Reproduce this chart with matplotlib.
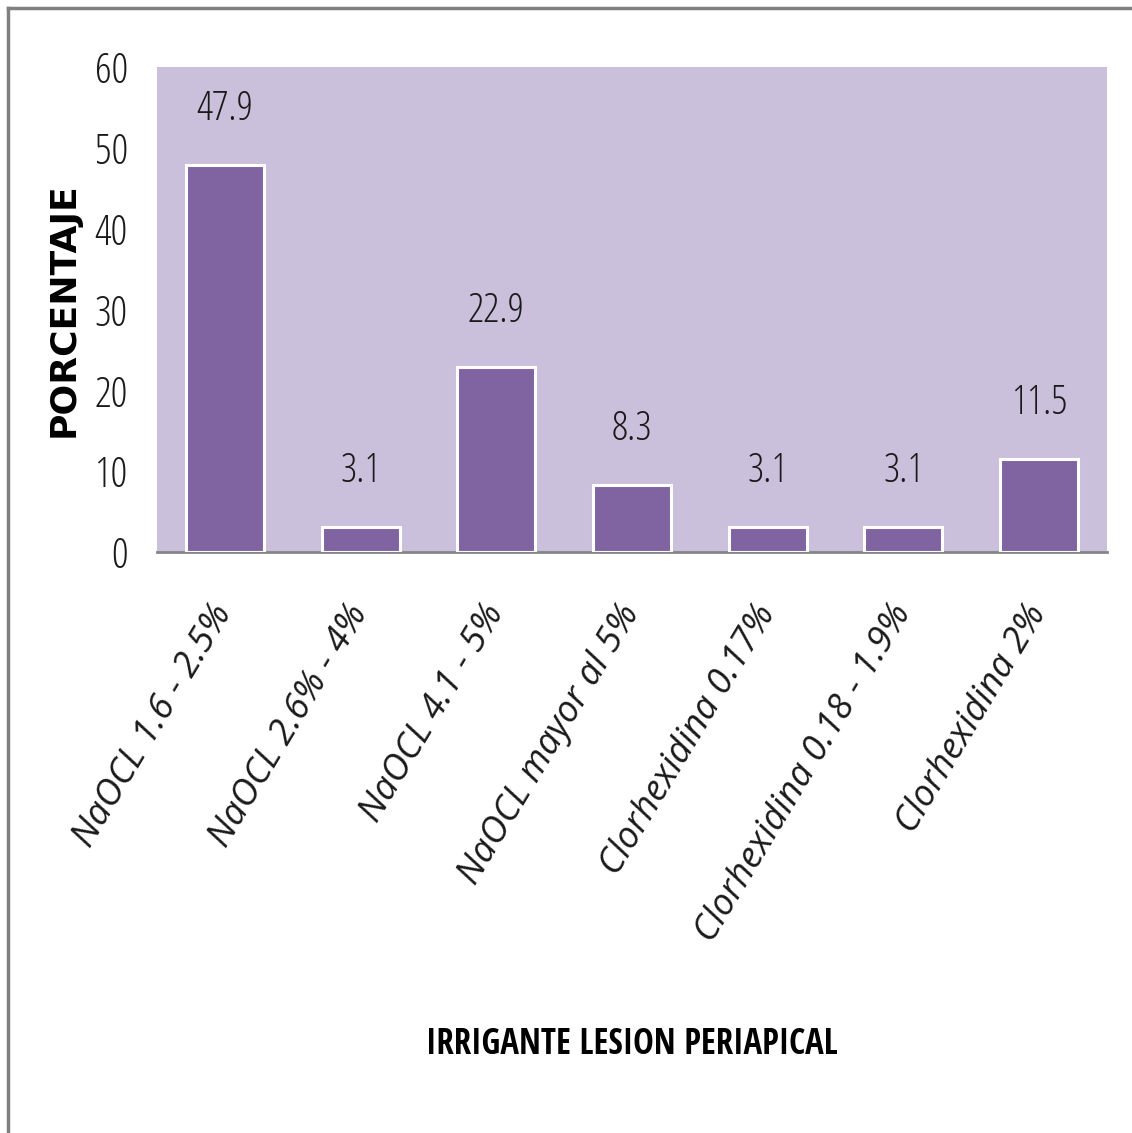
import matplotlib
matplotlib.use('Agg')
from matplotlib import pyplot as plt
from matplotlib.lines import Line2D

# porcentaje de uso de cada irrigante en lesion periapical
irrigantes = ['NaOCL 1.6 - 2.5%', 'NaOCL 2.6% - 4%', 'NaOCL 4.1 - 5%',
              'NaOCL mayor al 5%', 'Clorhexidina 0.17%',
              'Clorhexidina 0.18 - 1.9%', 'Clorhexidina 2%']
porcentajes = [47.9, 3.1, 22.9, 8.3, 3.1, 3.1, 11.5]
yticks = [0, 10, 20, 30, 40, 50, 60]

COND = dict(family=['Open Sans', 'DejaVu Sans'], stretch='condensed')

fig = plt.figure(figsize=(11.32, 11.33), dpi=100)
ax = fig.add_axes([157 / 1132, 1 - 552 / 1133, 950 / 1132, 485 / 1133])
ax.set_facecolor('#CBC0DB')

x = list(range(len(irrigantes)))
bars = ax.bar(x, porcentajes, width=0.575, color='#8064A2',
              edgecolor='white', linewidth=2.2, zorder=3)

for xi, val in zip(x, porcentajes):
    ax.annotate(f'{val:.1f}', (xi, val), xytext=(0, 25), textcoords='offset points',
                ha='center', va='bottom', fontsize=29, color='#1a1a1a', **COND)

ax.set_xlim(-0.5, len(irrigantes) - 0.5)
ax.set_ylim(0, 60)
ax.set_yticks(yticks)
ax.set_yticklabels([str(t) for t in yticks], fontsize=30, color='#1a1a1a', **COND)
ax.tick_params(axis='y', length=0, pad=21)
ax.tick_params(axis='x', length=0, pad=40)
ax.set_xticks(x)
ax.set_xticklabels(irrigantes, rotation=59, ha='right', va='center',
                   rotation_mode='anchor', style='italic',
                   fontsize=26, color='#1a1a1a', family=['Open Sans', 'DejaVu Sans'])

for side in ['left', 'right', 'top']:
    ax.spines[side].set_visible(False)
ax.spines['bottom'].set_color('#868686')
ax.spines['bottom'].set_linewidth(2)

fig.text(64 / 1132, 1 - 310 / 1133, 'PORCENTAJE', rotation=90, ha='center', va='center',
         fontsize=26, fontweight='bold', family='DejaVu Sans')
fig.text(632 / 1132, 1 - 1045 / 1133, 'IRRIGANTE LESION PERIAPICAL', ha='center', va='center',
         fontsize=25, fontweight='bold', family=['Open Sans Condensed', 'DejaVu Sans'],
         stretch='condensed')

# marco gris arriba e izquierda
fig.add_artist(Line2D([8 / 1132, 1], [1 - 8 / 1133, 1 - 8 / 1133],
                      transform=fig.transFigure, color='#808080', linewidth=2.5))
fig.add_artist(Line2D([8 / 1132, 8 / 1132], [0, 1 - 8 / 1133],
                      transform=fig.transFigure, color='#808080', linewidth=2.5))

fig.savefig('out.png', dpi=100, facecolor='white')
